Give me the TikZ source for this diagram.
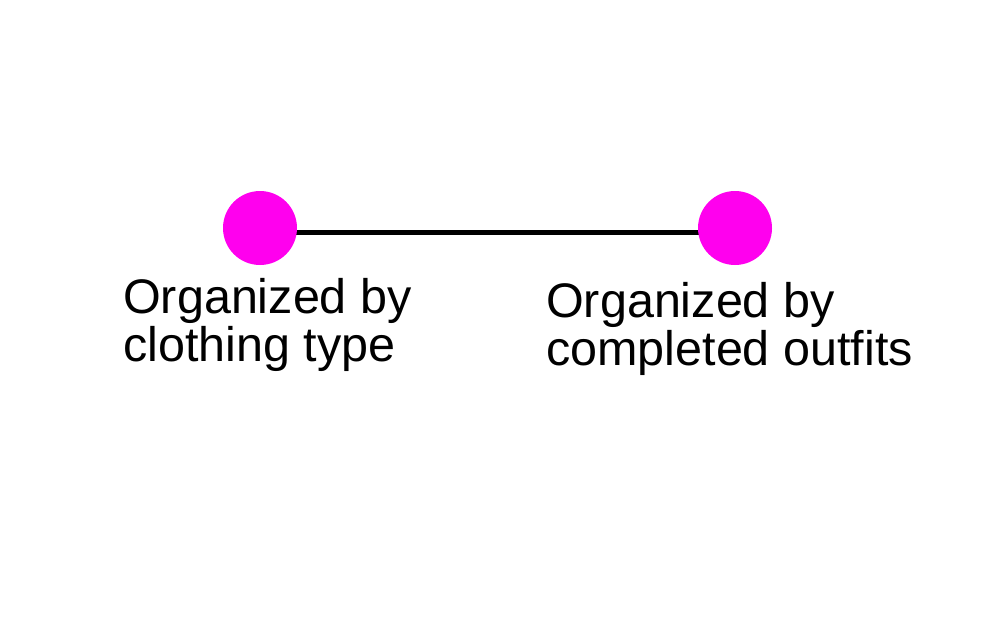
\documentclass[tikz,border=0pt]{standalone}
\usepackage{fontspec}
\setmainfont{Liberation Sans}
\usetikzlibrary{backgrounds}
\definecolor{dotpink}{RGB}{255,0,238}
\begin{document}
\begin{tikzpicture}[x=1pt,y=-1pt,
  dot/.style={circle,fill=dotpink,draw=none,minimum size=74pt,inner sep=0pt},
  lbl/.style={anchor=base west,inner sep=0pt,align=left,font=\fontsize{48.5}{48}\selectfont},
  link/.style={line width=5pt,black}]
\useasboundingbox (0,0) rectangle (1000,625);
\node[dot] (a) at (260,228) {};
\node[dot] (b) at (735,228) {};
\begin{scope}[on background layer]
\draw[link] ([yshift=-4.5pt]a.center) -- ([yshift=-4.5pt]b.center);
\end{scope}
\node[lbl] (la) at (123,361) {Organized by\\clothing type};
\node[lbl] (lb) at (546,365) {Organized by\\completed outfits};
\end{tikzpicture}
\end{document}
